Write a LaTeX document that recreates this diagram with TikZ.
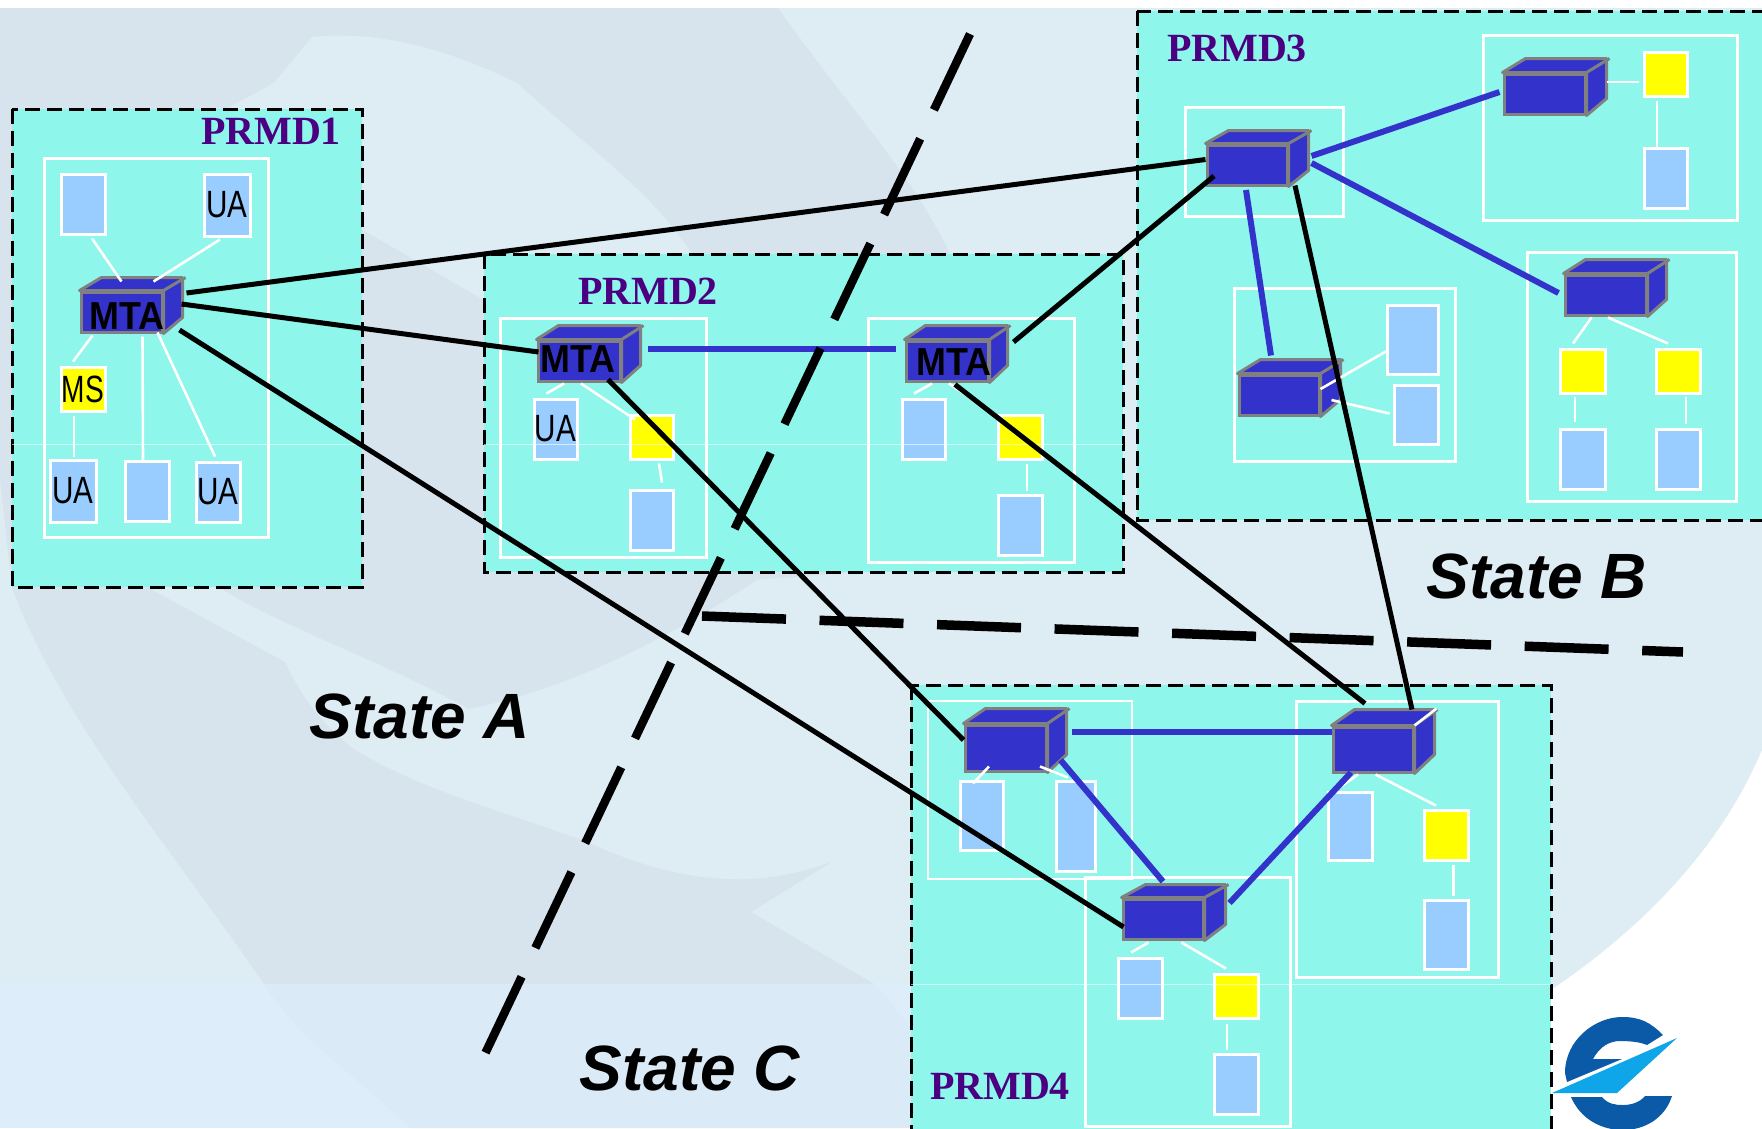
\documentclass[tikz,border=0pt]{standalone}
\usepackage{graphicx}
\usepackage{fontspec}
\setmainfont{Liberation Sans}
\newfontfamily\prmdfont{Liberation Serif}
\usepackage{xcolor}
\usepackage{tikz}
\definecolor{zonefill}{HTML}{8EF6EB}
\definecolor{cubeblue}{HTML}{3333CC}
\definecolor{uablue}{HTML}{99CCFF}
\definecolor{msyellow}{HTML}{FFFF00}
\definecolor{prmdpurple}{HTML}{4B0082}
\definecolor{skylight}{HTML}{DEECF4}
\definecolor{skydark}{HTML}{D7E4ED}
\definecolor{skyband}{HTML}{DFEEFF}
\definecolor{logodark}{HTML}{0B5AA8}
\definecolor{logolight}{HTML}{0FA5E9}
\newcommand{\mtacube}[7]{
    \node[cubefront, dims={#4}{#5}] (#1) at (#2,#3) {};
    \draw[cubeside] (#1.north west) -- ++(#6,#7) -- ++(#4,0) -- ++(0,#5) -- (#1.south east) -- (#1.north east) -- cycle;
    \draw[cubeside] (#1.north east) -- ++(#6,#7);
}
\begin{document}
\begin{tikzpicture}[
        x=1pt, y=-1pt,
        dims/.style 2 args={minimum width=#1pt, minimum height=#2pt},
        zone/.style={draw=black, fill=zonefill, line width=3pt, dash pattern=on 15pt off 7pt},
        sitebox/.style={draw=white, line width=3pt},
        uabox/.style={rectangle, draw=white, fill=uablue, line width=3pt, inner sep=0pt, font=\fontsize{38}{38}\selectfont},
        msbox/.style={uabox, fill=msyellow},
        cubefront/.style={rectangle, draw=gray, fill=cubeblue, line width=3pt, inner sep=0pt},
        cubeside/.style={draw=gray, fill=cubeblue, line width=3pt, line join=round},
        mtalabel/.style={inner sep=0pt, font=\fontsize{39}{39}\selectfont\bfseries},
        wire/.style={draw=white, line width=2.6pt},
        bluelink/.style={draw=cubeblue, line width=6pt},
        blacklink/.style={draw=black, line width=5pt},
        border/.style={draw=black, line width=8.5pt, dash pattern=on 84pt off 32pt},
        prmdlabel/.style={inner sep=0pt, text=prmdpurple, font=\fontsize{40}{40}\prmdfont\bfseries},
        statelabel/.style={inner sep=0pt, font=\fontsize{64}{64}\selectfont\bfseries\itshape},
        seam/.style={draw=white, line width=0.8pt, opacity=0.6}
        ]

        \useasboundingbox (0,0) rectangle (1762,1128);
        \fill[white] (0,0) rectangle (1762,1128);
        \fill[skylight] (0,8) rectangle (1762,1128);
        \fill[skydark] (0,8) -- (778,8) .. controls (850,110) and (910,170) .. (950,254) -- (1000,560) -- (757,580)
            .. controls (650,650) and (560,690) .. (469,709) .. controls (380,660) and (290,630) .. (223,590)
            -- (223,570) -- (152,570) -- (152,590) -- (285,662) .. controls (305,705) and (330,730) .. (352,748)
            .. controls (420,790) and (500,810) .. (587,842) .. controls (680,885) and (760,890) .. (833,861)
            -- (751,912) -- (874,984) -- (1000,1128) -- (410,1128) .. controls (350,1070) and (300,1040) .. (264,984)
            .. controls (180,860) and (60,720) .. (12,587) -- (0,480) -- cycle;
        \fill[skylight] (312,37) .. controls (380,30) and (450,50) .. (517,83) .. controls (590,150) and (650,190) .. (689,250)
            -- (740,330) -- (720,420) -- (484,300) -- (363,230) -- (230,200) -- (230,107) -- (274,83) -- cycle;
        \fill[skyband, opacity=0.6] (0,984) rectangle (1000,1128);
        \fill[white] (1762,750) .. controls (1720,850) and (1640,930) .. (1551,990) -- (1500,1128) -- (1762,1128) -- cycle;

        \draw[zone] (12,109) rectangle (362,587);
        \draw[zone] (484,254) rectangle (1123,572);
        \draw[zone] (1137,11) rectangle (1790,520);
        \draw[zone] (911,685) rectangle (1551,1160);

        \fill[logodark] (1663,1035) .. controls (1650,1022) and (1640,1017) .. (1622,1017) .. controls (1595,1017) and (1565,1040) .. (1565,1073)
            -- (1567,1082) -- (1622,1059) -- (1593,1059) .. controls (1600,1046) and (1610,1041) .. (1620,1041) .. controls (1630,1041) and (1640,1042) .. (1647,1045) -- cycle;
        \fill[logodark] (1571,1097) -- (1602,1097) .. controls (1608,1104) and (1615,1105) .. (1623,1105) .. controls (1632,1105) and (1640,1102) .. (1645,1096)
            -- (1672,1096) .. controls (1665,1118) and (1645,1130) .. (1623,1130) .. controls (1600,1130) and (1580,1118) .. (1571,1097) -- cycle;
        \fill[logolight] (1677,1038) -- (1552,1093) -- (1617,1093) -- cycle;

        \draw[sitebox] (44,158) rectangle (268,537);
        \draw[sitebox] (500,318) rectangle (706,557);
        \draw[sitebox] (868,318) rectangle (1074,562);
        \draw[sitebox] (1185,107) rectangle (1343,216);
        \draw[sitebox] (1483,35) rectangle (1737,220);
        \draw[sitebox] (1234,288) rectangle (1455,461);
        \draw[sitebox] (1527,252) rectangle (1736,501);
        \draw[sitebox, line width=2pt] (928,701) rectangle (1132,879);
        \draw[sitebox] (1296,701) rectangle (1498,977);
        \draw[sitebox] (1085,877) rectangle (1290,1126);

        \node[uabox, dims={44}{60}] (p1a) at (83,204) {};
        \node[uabox, dims={46}{62}] (p1b) at (227,205) {\raisebox{-1pt}{\scalebox{.78}[1]{UA}}};
        \node[msbox, dims={44}{44}] (p1c) at (83,389) {\scalebox{.74}[1]{MS}};
        \node[uabox, dims={46}{62}] (p1d) at (73,491) {\raisebox{-1pt}{\scalebox{.78}[1]{UA}}};
        \node[uabox, dims={44}{60}] (p1e) at (147,491) {};
        \node[uabox, dims={44}{60}] (p1f) at (218,492) {\raisebox{-1pt}{\scalebox{.78}[1]{UA}}};

        \node[uabox, dims={43}{60}] (p2a) at (555.5,429) {\raisebox{-1pt}{\scalebox{.78}[1]{UA}}};
        \node[msbox, dims={43}{44}] (p2b) at (651.5,437) {};
        \node[uabox, dims={43}{60}] (p2c) at (651.5,520) {};
        \node[uabox, dims={43}{60}] (p2d) at (923.5,429) {};
        \node[msbox, dims={44}{44}] (p2e) at (1020,437) {};
        \node[uabox, dims={44}{60}] (p2f) at (1020,525) {};

        \node[msbox, dims={43}{44}] (p3a) at (1665.5,74) {};
        \node[uabox, dims={43}{60}] (p3b) at (1665.5,178) {};
        \node[uabox, dims={51}{69}] (p3c) at (1412.5,339.5) {};
        \node[uabox, dims={44}{59}] (p3d) at (1416,414.5) {};
        \node[msbox, dims={45}{44}] (p3e) at (1582.5,371) {};
        \node[msbox, dims={44}{44}] (p3f) at (1678,371) {};
        \node[uabox, dims={45}{60}] (p3g) at (1582.5,459) {};
        \node[uabox, dims={44}{60}] (p3h) at (1678,459) {};

        \node[uabox, dims={43}{69}] (p4a) at (981.5,815.5) {};
        \node[uabox, dims={39}{90}] (p4b) at (1075.5,826) {};
        \node[uabox, dims={44}{68}] (p4c) at (1350,826) {};
        \node[msbox, dims={44}{50}] (p4d) at (1446,835) {};
        \node[uabox, dims={44}{69}] (p4e) at (1446,934.5) {};
        \node[uabox, dims={44}{60}] (p4f) at (1140,988) {};
        \node[msbox, dims={44}{44}] (p4g) at (1236,996) {};
        \node[uabox, dims={44}{60}] (p4h) at (1236,1084) {};

        \mtacube{mta1}{121.5}{312}{81}{40}{22}{-13}
        \mtacube{mta2a}{579}{361}{82}{40}{22}{-14}
        \mtacube{mta2b}{947}{361}{82}{40}{21}{-14}
        \mtacube{c3a}{1247}{165}{80}{40}{23}{-13}
        \mtacube{c3b}{1544.5}{94}{81}{40}{23}{-14}
        \mtacube{c3c}{1279}{395}{80}{40}{23}{-14}
        \mtacube{c3d}{1605.5}{295}{81}{40}{22}{-14}
        \mtacube{c4a}{1005.5}{748}{81}{46}{22}{-15}
        \mtacube{c4b}{1373}{749.5}{80}{45}{23}{-16}
        \mtacube{c4c}{1163}{919}{80}{40}{24}{-13}

        \node[mtalabel] (mta1label) at (127,316) {\scalebox{.92}[1]{MTA}};
        \node[mtalabel] (mta2alabel) at (578,359) {\scalebox{.92}[1]{MTA}};
        \node[mtalabel] (mta2blabel) at (954,362) {\scalebox{.92}[1]{MTA}};

        \draw[wire] ([shift={(9,3)}]p1a.south) -- ([shift={(0,-9)}]mta1.north);
        \draw[wire] ([shift={(-7,2)}]p1b.south) -- ([shift={(32,-9)}]mta1.north);
        \draw[wire] ([shift={(-29,2)}]mta1.south) -- ([shift={(-10,-4)}]p1c.north);
        \draw[wire] ([shift={(-9,3)}]p1c.south) -- ([shift={(1,-2)}]p1d.north);
        \draw[wire] ([shift={(21,3)}]mta1.south) -- ([shift={(-4,1)}]p1e.north);
        \draw[wire] ([shift={(36,-1)}]mta1.south) -- ([shift={(-3,-4)}]p1f.north);

        \draw[wire] ([shift={(-15,1)}]mta2a.south) -- ([shift={(-9,-4)}]p2a.north);
        \draw[wire] ([shift={(2,1)}]mta2a.south) -- ([shift={(-16.5,6)}]p2b.north);
        \draw[wire] ([shift={(7.5,3)}]p2b.south) -- ([shift={(10.5,-6)}]p2c.north);
        \draw[wire] ([shift={(-15,1)}]mta2b.south) -- ([shift={(-9.5,-4)}]p2d.north);
        \draw[wire] ([shift={(2,1)}]mta2b.south) -- ([shift={(-17,6)}]p2e.north);
        \draw[wire] ([shift={(7,3)}]p2e.south) -- ([shift={(7,-3)}]p2f.north);

        \draw[wire] ([shift={(20,-12)}]c3b.east) -- ([shift={(-4,8)}]p3a.west);
        \draw[wire] ([shift={(-8.5,3)}]p3a.south) -- ([shift={(-8.5,3)}]p3b.north);
        \draw[wire] ([shift={(0,-6)}]c3c.east) -- ([shift={(3,10.5)}]p3c.west);
        \draw[wire] ([shift={(11,5)}]c3c.east) -- ([shift={(-3,-1)}]p3d.west);
        \draw[wire] ([shift={(-14,1)}]c3d.south) -- ([shift={(-9.5,-4)}]p3e.north);
        \draw[wire] ([shift={(2.5,1)}]c3d.south) -- ([shift={(-10,-4)}]p3f.north);
        \draw[wire] ([shift={(-7.5,2)}]p3e.south) -- ([shift={(-7.5,-6)}]p3g.north);
        \draw[wire] ([shift={(8,2)}]p3f.south) -- ([shift={(8,-4)}]p3h.north);

        \draw[wire] ([shift={(-16.5,-6)}]c4a.south) -- ([shift={(-8.5,4)}]p4a.north);
        \draw[wire] ([shift={(34.5,-6)}]c4a.south) -- ([shift={(-7.5,-2)}]p4b.north);
        \draw[wire] ([shift={(-15,1)}]c4b.south) -- ([shift={(-9,-4)}]p4c.north);
        \draw[wire] ([shift={(2.5,1)}]c4b.south) -- ([shift={(-10,-3)}]p4d.north);
        \draw[wire] ([shift={(7.5,3)}]p4d.south) -- ([shift={(7.5,-3)}]p4e.north);
        \draw[wire] ([shift={(-14.5,2)}]c4c.south) -- ([shift={(-9,-4)}]p4f.north);
        \draw[wire] ([shift={(18.5,2)}]c4c.south) -- ([shift={(-10,-4)}]p4g.north);
        \draw[wire] ([shift={(-9,4)}]p4g.south) -- ([shift={(-9,-3)}]p4h.north);
        \draw[wire] (c4b.north east) -- ++(22,-17);

        \draw[seam] (12,444) -- (362,444);
        \draw[seam] (484,444) -- (1123,444);
        \draw[seam] (911,984) -- (1551,984);

        \draw[bluelink] ([shift={(26,-12)}]mta2a.east) -- ([shift={(-9,-12)}]mta2b.west);
        \draw[bluelink] ([shift={(23,-9)}]c3a.east) -- ([shift={(-3,-2)}]c3b.west);
        \draw[bluelink] ([shift={(23,-2)}]c3a.east) -- ([shift={(-5,-2)}]c3d.west);
        \draw[bluelink] ([shift={(-1,3.5)}]c3a.south) -- ([shift={(-8,-18)}]c3c.north);
        \draw[bluelink] ([shift={(24,-16)}]c4a.east) -- ([shift={(0,-17.5)}]c4b.west);
        \draw[bluelink] ([shift={(13,12)}]c4a.east) -- ([shift={(0,-16)}]c4c.north);
        \draw[bluelink] ([shift={(-22,-1)}]c4b.south) -- ([shift={(25,-16)}]c4c.east);

        \coordinate (borderABtop) at (970,34);
        \coordinate (borderABend) at (483,1058);
        \coordinate (borderBCleft) at (702,616);
        \coordinate (borderBCright) at (1683,652);
        \draw[border] (borderABtop) -- (borderABend);
        \draw[border, line width=9.5pt, dash pattern=on 84pt off 33.6pt] (borderBCleft) -- (borderBCright);

        \draw[blacklink] ([shift={(23,-19)}]mta1.east) -- ([shift={(0,-5.5)}]c3a.west);
        \draw[blacklink] ([shift={(18,-8)}]mta1.east) -- ([shift={(2,-9)}]mta2a.west);
        \draw[blacklink] ([shift={(16,18)}]mta1.east) -- ([shift={(2,8)}]c4c.west);
        \draw[blacklink] ([shift={(29,-3)}]mta2a.south) -- ([shift={(0,-8)}]c4a.west);
        \draw[blacklink] ([shift={(8,2)}]mta2b.south) -- ([shift={(-8,-22)}]c4b.north);
        \draw[blacklink] ([shift={(24,-19)}]mta2b.east) -- ([shift={(8.5,11)}]c3a.west);
        \draw[blacklink] ([shift={(48,-1)}]c3a.south) -- ([shift={(39,-16)}]c4b.north);

        \node[prmdlabel] (prmd1) at (271,131) {PRMD1};
        \node[prmdlabel] (prmd2) at (648,291) {PRMD2};
        \node[prmdlabel] (prmd3) at (1237,48) {PRMD3};
        \node[prmdlabel] (prmd4) at (1000,1086) {PRMD4};

        \node[statelabel] (statea) at (420,716) {State A};
        \node[statelabel] (stateb) at (1537,576) {State B};
        \node[statelabel] (statec) at (690,1068) {State C};

    \end{tikzpicture}
\end{document}
